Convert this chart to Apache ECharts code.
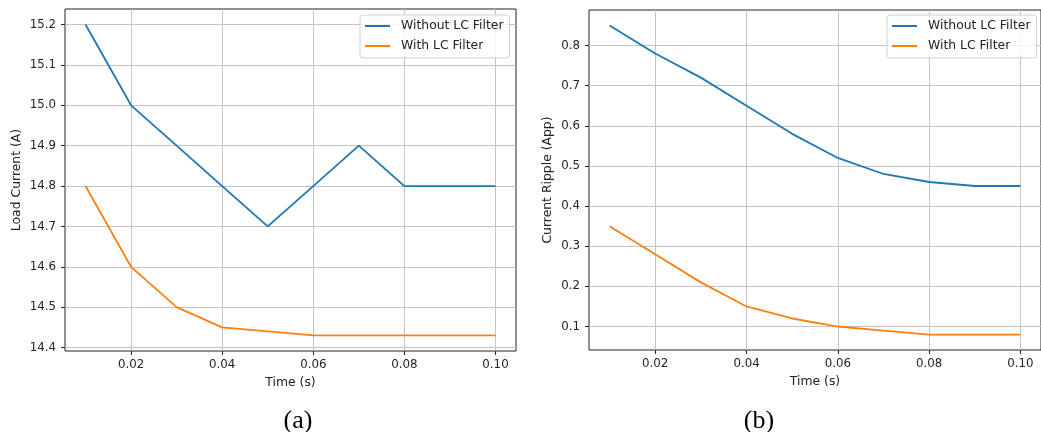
<!DOCTYPE html>
<html>
<head>
<meta charset="utf-8">
<script src="https://cdn.jsdelivr.net/npm/echarts@6/dist/echarts.min.js"></script>
<style>
html, body { margin: 0; padding: 0; background: #fff; }
#main { width: 1041px; height: 432px; }
</style>
</head>
<body>
<div id="main"></div>
<script>
// time samples (s)
const timeS = [0.01, 0.02, 0.03, 0.04, 0.05, 0.06, 0.07, 0.08, 0.09, 0.10];
// (a) load current (A)
const loadWithout = [15.2, 15.0, 14.9, 14.8, 14.7, 14.8, 14.9, 14.8, 14.8, 14.8];
const loadWith = [14.8, 14.6, 14.5, 14.45, 14.44, 14.43, 14.43, 14.43, 14.43, 14.43];
// (b) current ripple (App)
const rippleWithout = [0.85, 0.78, 0.72, 0.65, 0.58, 0.52, 0.48, 0.46, 0.45, 0.45];
const rippleWith = [0.35, 0.28, 0.21, 0.15, 0.12, 0.10, 0.09, 0.08, 0.08, 0.08];
// tick labels
const timeTicks = [0.02, 0.04, 0.06, 0.08, 0.10];
const loadTicks = [14.4, 14.5, 14.6, 14.7, 14.8, 14.9, 15.0, 15.1, 15.2];
const rippleTicks = [0.1, 0.2, 0.3, 0.4, 0.5, 0.6, 0.7, 0.8];
const seriesNames = ['Without LC Filter', 'With LC Filter'];

const blue = '#1f77b4';
const orange = '#ff7f0e';
const font = 'DejaVu Sans';

function pairs(ys) {
    return timeS.map((t, i) => [t, ys[i]]);
}

function xAxisOf(gridIndex) {
    return {
        type: 'value',
        gridIndex: gridIndex,
        min: 0.0055,
        max: 0.1045,
        name: 'Time (s)',
        nameLocation: 'middle',
        nameGap: 26,
        nameTextStyle: { fontFamily: font, fontSize: 12.4, color: '#222' },
        axisLine: { show: false },
        axisTick: { show: true, length: 4, customValues: timeTicks, lineStyle: { color: '#222' } },
        axisLabel: {
            customValues: timeTicks,
            margin: 8,
            fontFamily: font, fontSize: 11.8, color: '#222',
            formatter: v => v.toFixed(2)
        },
        splitLine: { show: true, lineStyle: { color: '#c4c4c4', width: 1 } }
    };
}

function yAxisOf(gridIndex, min, max, ticks, name, gap) {
    return {
        type: 'value',
        gridIndex: gridIndex,
        min: min,
        max: max,
        name: name,
        nameLocation: 'middle',
        nameGap: gap,
        nameTextStyle: { fontFamily: font, fontSize: 12.4, color: '#222' },
        axisLine: { show: false },
        axisTick: { show: true, length: 4, customValues: ticks, lineStyle: { color: '#222' } },
        axisLabel: {
            customValues: ticks,
            margin: 9,
            fontFamily: font, fontSize: 11.8, color: '#222',
            formatter: v => v.toFixed(1)
        },
        splitLine: { show: true, lineStyle: { color: '#c4c4c4', width: 1 } }
    };
}

function legendOf(left) {
    return {
        data: seriesNames,
        orient: 'vertical',
        left: left,
        top: 15,
        icon: 'rect',
        itemWidth: 25,
        itemHeight: 2,
        itemGap: 6,
        padding: [4, 6, 5, 5],
        borderColor: '#d0d0d0',
        borderWidth: 1,
        borderRadius: 3,
        backgroundColor: 'rgba(255,255,255,0.8)',
        textStyle: { fontFamily: font, fontSize: 12.4, color: '#222', lineHeight: 14, padding: [0, 0, 0, 6] }
    };
}

function lineSeries(name, color, xi, ys) {
    return {
        name: name,
        type: 'line',
        xAxisIndex: xi,
        yAxisIndex: xi,
        data: pairs(ys),
        showSymbol: false,
        symbol: 'none',
        color: color,
        lineStyle: { color: color, width: 1.8 },
        emphasis: { disabled: true }
    };
}

const option = {
    animation: false,
    backgroundColor: '#fff',
    title: [
        { text: '(a)', left: 293, top: 403, textAlign: 'center',
          textStyle: { fontFamily: 'Liberation Serif', fontSize: 26, fontWeight: 'normal', color: '#000' } },
        { text: '(b)', left: 754, top: 403, textAlign: 'center',
          textStyle: { fontFamily: 'Liberation Serif', fontSize: 26, fontWeight: 'normal', color: '#000' } }
    ],
    grid: [
        { left: 65, top: 9, width: 451, height: 342, show: true, borderColor: '#222', borderWidth: 1, backgroundColor: 'transparent' },
        { left: 589, top: 10, width: 457, height: 340, show: true, borderColor: '#222', borderWidth: 1, backgroundColor: 'transparent' }
    ],
    legend: [legendOf(360), legendOf(887)],
    xAxis: [xAxisOf(0), xAxisOf(1)],
    yAxis: [
        yAxisOf(0, 14.3915, 15.2385, loadTicks, 'Load Current (A)', 42),
        yAxisOf(1, 0.0415, 0.8885, rippleTicks, 'Current Ripple (App)', 35)
    ],
    series: [
        lineSeries(seriesNames[0], blue, 0, loadWithout),
        lineSeries(seriesNames[1], orange, 0, loadWith),
        lineSeries(seriesNames[0], blue, 1, rippleWithout),
        lineSeries(seriesNames[1], orange, 1, rippleWith)
    ]
};

const myChart = echarts.init(document.getElementById('main'));
myChart.setOption(option);
</script>
</body>
</html>
